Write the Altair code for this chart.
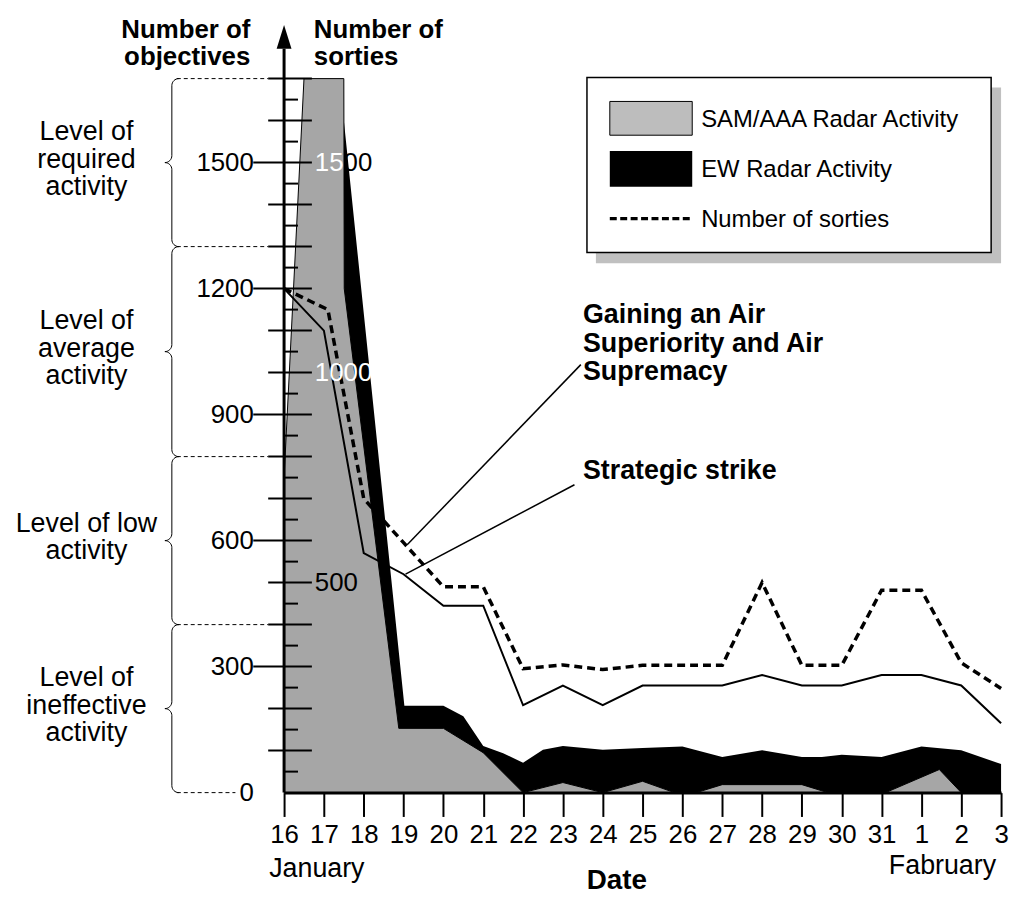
import math
import altair as alt
import pandas as pd

FONT = "Liberation Sans"

# ---------------- data ----------------
DAY_LABELS = ["16", "17", "18", "19", "20", "21", "22", "23", "24", "25",
              "26", "27", "28", "29", "30", "31", "1", "2", "3"]
MONTH_LABELS = ["January", "Fabruary"]
AXIS_TITLE = "Date"
LEFT_TITLE = "Number of\nobjectives"
RIGHT_TITLE = "Number of\nsorties"

OBJ_TICKS = [0, 300, 600, 900, 1200, 1500]
SORTIE_TICKS = [500, 1000, 1500]
YMAX = 1700

LEVEL_BOUNDS = [0, 400, 800, 1300, 1700]
LEVEL_NAMES = ["Level of\nineffective\nactivity", "Level of low\nactivity",
               "Level of\naverage\nactivity", "Level of\nrequired\nactivity"]

# SAM/AAA radar activity (grey area)
SAM_DAY = [0, 0.5, 1.5, 1.51, 2.88, 4, 5, 6, 7, 8, 9, 9.8, 10.35, 11, 13, 13.65, 15.1, 16.45, 17, 18]
SAM_VAL = [750, 1700, 1700, 1200, 153, 153, 95, 0, 24, 0, 27, 0, 0, 19, 19, 0, 0, 55, 0, 0]

# EW radar activity (black area, upper boundary of the black band)
EW_DAY = [1.5, 3.02, 4, 4.5, 5, 5.5, 6, 6.5, 7, 8, 9, 10, 11, 12, 13, 13.5, 14, 15, 16, 17, 18]
EW_TOP = [1600, 207, 207, 182, 111, 94, 71, 102, 111, 102, 106, 110, 85, 101, 85, 85, 90, 85, 110, 101, 68]

# Strategic strike (solid line)
STRIKE_DAY = list(range(19))
STRIKE_VAL = [1200, 1100, 570, 520, 445, 445, 208, 255, 208, 255, 255, 255, 280, 255, 255, 280, 280, 255, 165]

# Number of sorties / air superiority (dashed line)
SORTIE_DAY = [0, 1.1, 2, 3, 4, 5, 6, 7, 8, 9, 10, 11, 12, 13, 14, 15, 16, 17, 18]
SORTIE_VAL = [1200, 1150, 700, 595, 490, 490, 295, 304, 293, 303, 303, 303, 500, 303, 303, 482, 482, 309, 248]

ANNOT = ["Gaining an Air\nSuperiority and Air\nSupremacy", "Strategic strike"]
ANNOT_FROM_DAY = [7.45, 7.29]
ANNOT_FROM_VAL = [1019, 733]
ANNOT_TO_DAY = [3.09, 3.05]
ANNOT_TO_VAL = [590, 520]

LEGEND_LABELS = ["SAM/AAA Radar Activity", "EW Radar Activity", "Number of sorties"]

# ---------------- layout ----------------
W, H = 722, 719
PAD = {"left": 278, "top": 68, "right": 10, "bottom": 99}
PPU = H / YMAX  # pixels per unit on the y scale
GREY = "#a6a6a6"

xs = alt.Scale(domain=[0, len(DAY_LABELS) - 1], nice=False, zero=False)
ys = alt.Scale(domain=[0, YMAX], nice=False, zero=False)

label_expr = "[" + ",".join("'%s'" % s for s in DAY_LABELS) + "][datum.value]"
X_AX = alt.Axis(values=list(range(len(DAY_LABELS))), labelExpr=label_expr, title=None,
                grid=False, domainColor="black", domainWidth=3, tickColor="black",
                tickWidth=2, tickSize=24, labelFont=FONT, labelFontSize=26,
                labelColor="black", labelPadding=5, labelAngle=0, labelOverlap=False,
                labelFlush=False, zindex=1)
Y_AX = alt.Axis(values=OBJ_TICKS, format="d", title=None, grid=False, domain=False,
                ticks=False, labelFont=FONT, labelFontSize=26, labelColor="black",
                labelPadding=31, labelOverlap=False, labelFlush=False, zindex=1)


def X(field):
    return alt.X(field, scale=xs, axis=X_AX)


def Y(field):
    return alt.Y(field, scale=ys, axis=Y_AX, stack=None)


PX = lambda f: alt.X(f, scale=None)
PY = lambda f: alt.Y(f, scale=None)

one = pd.DataFrame({"k": [0]})

# areas and lines
ew = alt.Chart(pd.DataFrame({"d": EW_DAY, "v": EW_TOP})).mark_area(
    fill="black", interpolate="linear").encode(x=X("d:Q"), y=Y("v:Q"))
sam = alt.Chart(pd.DataFrame({"d": SAM_DAY, "v": SAM_VAL})).mark_area(
    fill=GREY, stroke="black", strokeWidth=1, interpolate="linear").encode(x=X("d:Q"), y=Y("v:Q"))
strike = alt.Chart(pd.DataFrame({"d": STRIKE_DAY, "v": STRIKE_VAL})).mark_line(
    color="black", strokeWidth=2).encode(x=X("d:Q"), y=Y("v:Q"))
sorties = alt.Chart(pd.DataFrame({"d": SORTIE_DAY, "v": SORTIE_VAL})).mark_line(
    color="black", strokeWidth=3.5, strokeDash=[8, 5]).encode(x=X("d:Q"), y=Y("v:Q"))

lead_rows = []
for i in range(len(ANNOT)):
    lead_rows.append({"g": i, "d": ANNOT_FROM_DAY[i], "v": ANNOT_FROM_VAL[i]})
    lead_rows.append({"g": i, "d": ANNOT_TO_DAY[i], "v": ANNOT_TO_VAL[i]})
leaders = alt.Chart(pd.DataFrame(lead_rows)).mark_line(color="black", strokeWidth=1.5).encode(
    x=X("d:Q"), y=Y("v:Q"), detail="g:N")

# inner sortie labels (white over the grey, black elsewhere)
inner_rows = []
for v in SORTIE_TICKS:
    s = str(v)
    if v == 1500:
        inner_rows.append({"v": v, "t": s[:2], "x": 31, "c": "white"})
        inner_rows.append({"v": v, "t": s[2:], "x": 31 + 2 * 0.556 * 26, "c": "black"})
    elif v == 1000:
        inner_rows.append({"v": v, "t": s, "x": 31, "c": "white"})
    else:
        inner_rows.append({"v": v, "t": s, "x": 31, "c": "black"})
inner = alt.Chart(pd.DataFrame(inner_rows)).mark_text(
    font=FONT, fontSize=26, align="left", baseline="middle").encode(
    x=PX("x:Q"), y=Y("v:Q"), text="t:N", color=alt.Color("c:N", scale=None))

# vertical axis with arrow
vline = alt.Chart(one).mark_rule(color="black", strokeWidth=3).encode(
    x=alt.value(0), y=alt.value(-30), y2=alt.value(H))
arrow = alt.Chart(one).mark_point(shape="M0,-1L0.625,1L-0.625,1Z", size=576, filled=True,
                                  fill="black", strokeWidth=0, opacity=1).encode(
    x=alt.value(0), y=alt.value(-42))

tick_rows = []
for v in range(50, YMAX + 1, 50):
    if v % 100:
        tick_rows.append({"v": v, "x1": 0, "x2": 14})
    elif v in OBJ_TICKS:
        tick_rows.append({"v": v, "x1": -31, "x2": 28})
    else:
        tick_rows.append({"v": v, "x1": -16, "x2": 28})
ticks = alt.Chart(pd.DataFrame(tick_rows)).mark_rule(color="black", strokeWidth=2).encode(
    y=Y("v:Q"), x=PX("x1:Q"), x2=alt.X2("x2:Q"))

bound_rows = [{"v": v, "x1": -108, "x2": (-16 if v > 0 else -49)} for v in LEVEL_BOUNDS]
bounds = alt.Chart(pd.DataFrame(bound_rows)).mark_rule(
    color="black", strokeWidth=1, strokeDash=[4, 3]).encode(
    y=Y("v:Q"), x=PX("x1:Q"), x2=alt.X2("x2:Q"))

# curly braces
XB, XE, XT, R = -113, -106, -120, 7.0
rv = R / PPU
brace_rows = []
for b in range(len(LEVEL_NAMES)):
    lo, hi = LEVEL_BOUNDS[b], LEVEL_BOUNDS[b + 1]
    mid = (lo + hi) / 2
    pts = []

    def arc(cx, cv, a0, a1, n=8):
        for j in range(n + 1):
            a = math.radians(a0 + (a1 - a0) * j / n)
            pts.append((cx + R * math.cos(a), cv + rv * math.sin(a)))

    arc(XE, hi - rv, 90, 180)          # top hook
    arc(XT, mid + rv, 0, -90)          # down to the tip
    arc(XT, mid - rv, 90, 0)           # back from the tip
    arc(XE, lo + rv, 180, 270)         # bottom hook
    for i, (px, pv) in enumerate(pts):
        brace_rows.append({"b": b, "i": i, "x": px, "v": pv})
braces = alt.Chart(pd.DataFrame(brace_rows)).mark_line(color="black", strokeWidth=1).encode(
    x=PX("x:Q"), y=Y("v:Q"), detail="b:N", order="i:Q")

# level labels: multi-line text, first line placed so that the block is centred
LEVEL_LH = 27.5
level_first = []
for i, name in enumerate(LEVEL_NAMES):
    n = name.count("\n") + 1
    centre = (LEVEL_BOUNDS[i] + LEVEL_BOUNDS[i + 1]) / 2
    level_first.append(centre + (n - 1) * LEVEL_LH / 2 / PPU + 3 / PPU)
levels = alt.Chart(pd.DataFrame({"t": LEVEL_NAMES, "v": level_first})).mark_text(
    font=FONT, fontSize=27, align="center", baseline="middle", lineBreak="\n",
    lineHeight=LEVEL_LH, color="black").encode(x=alt.value(-199), y=Y("v:Q"), text="t:N")

title_l = alt.Chart(pd.DataFrame({"t": [LEFT_TITLE]})).mark_text(
    font=FONT, fontSize=26, fontWeight="bold", align="right", baseline="middle",
    lineBreak="\n", lineHeight=27.5, color="black").encode(
    x=alt.value(-34), y=alt.value(-49), text="t:N")
title_r = alt.Chart(pd.DataFrame({"t": [RIGHT_TITLE]})).mark_text(
    font=FONT, fontSize=26, fontWeight="bold", align="left", baseline="middle",
    lineBreak="\n", lineHeight=27.5, color="black").encode(
    x=alt.value(30), y=alt.value(-49), text="t:N")

annot_df = pd.DataFrame({"t": ANNOT, "x": [301, 301], "y": [238.5, 395.5]})
annots = alt.Chart(annot_df).mark_text(
    font=FONT, fontSize=27, fontWeight="bold", align="left", baseline="middle",
    lineBreak="\n", lineHeight=28.5, color="black").encode(
    x=PX("x:Q"), y=PY("y:Q"), text="t:N")

jan = alt.Chart(pd.DataFrame({"t": [MONTH_LABELS[0]]})).mark_text(
    font=FONT, fontSize=27, align="left", baseline="middle", color="black").encode(
    x=alt.value(-15), y=alt.value(796), text="t:N")
feb = alt.Chart(pd.DataFrame({"t": [MONTH_LABELS[1]]})).mark_text(
    font=FONT, fontSize=27, align="right", baseline="middle", color="black").encode(
    x=alt.value(717), y=alt.value(793), text="t:N")
date = alt.Chart(pd.DataFrame({"t": [AXIS_TITLE]})).mark_text(
    font=FONT, fontSize=28, fontWeight="bold", align="center", baseline="alphabetic",
    color="black").encode(x=alt.value(335), y=alt.value(816), text="t:N")

# legend
shadow = alt.Chart(one).mark_rect(fill="#c0c0c0").encode(
    x=alt.value(314), x2=alt.value(722), y=alt.value(9), y2=alt.value(186))
box = alt.Chart(one).mark_rect(fill="white", stroke="black", strokeWidth=1.5).encode(
    x=alt.value(305), x2=alt.value(712), y=alt.value(-1), y2=alt.value(175))
sw_grey = alt.Chart(one).mark_rect(fill="#bdbdbd", stroke="black", strokeWidth=1).encode(
    x=alt.value(328), x2=alt.value(411), y=alt.value(23), y2=alt.value(57))
sw_black = alt.Chart(one).mark_rect(fill="black").encode(
    x=alt.value(328), x2=alt.value(411), y=alt.value(73), y2=alt.value(109))
sw_dash = alt.Chart(one).mark_rule(color="black", strokeWidth=3.3, strokeDash=[7, 3.5]).encode(
    x=alt.value(328), x2=alt.value(411), y=alt.value(141))
leg_text = alt.Chart(pd.DataFrame({"t": LEGEND_LABELS, "y": [41.5, 92, 142]})).mark_text(
    font=FONT, fontSize=24, align="left", baseline="middle", color="black").encode(
    x=alt.value(420), y=PY("y:Q"), text="t:N")

chart = alt.layer(
    ew, sam, strike, sorties, leaders, inner, vline, arrow, ticks, bounds, braces,
    levels, title_l, title_r, annots, jan, feb, date,
    shadow, box, sw_grey, sw_black, sw_dash, leg_text,
).properties(
    width=W, height=H,
    autosize=alt.AutoSizeParams(type="none"),
    padding=PAD,
    background="white",
).configure_view(stroke=None)

chart.save("out.html", embed_options={"renderer": "svg", "actions": False})
